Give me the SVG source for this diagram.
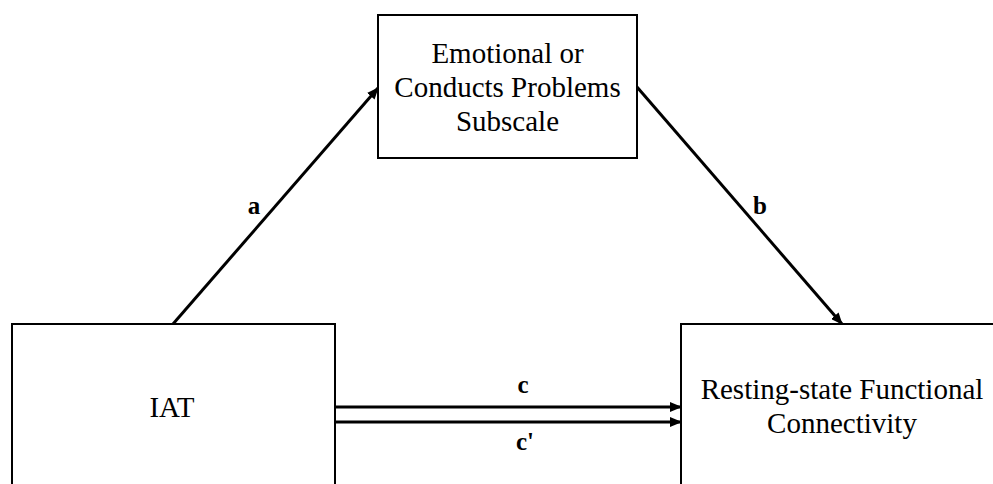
<svg xmlns="http://www.w3.org/2000/svg" width="993" height="484" viewBox="0 0 993 484">
<style>
.box{fill:#fff;stroke:#000;stroke-width:2}
.t{font-family:"Liberation Serif","Times New Roman",serif;font-size:29px;fill:#000;text-anchor:middle}
.lbl{font-family:"Liberation Serif","Times New Roman",serif;font-size:25px;font-weight:bold;fill:#000;text-anchor:middle}
.edge{stroke:#000;stroke-width:3;fill:none;marker-end:url(#ah)}
</style>
<defs>
<marker id="ah" markerWidth="12" markerHeight="10" refX="11" refY="5" orient="auto" markerUnits="userSpaceOnUse">
<path d="M0,0 L12,5 L0,10 Z" fill="#000"/>
</marker>
</defs>
<rect width="993" height="484" fill="#fff"/>
<g id="connectors">
<line class="edge" x1="173" y1="324" x2="378" y2="88"/>
<line class="edge" x1="637" y1="87" x2="842" y2="324"/>
<line class="edge" x1="335" y1="407" x2="681" y2="407"/>
<line class="edge" x1="335" y1="422" x2="681" y2="422"/>
<text class="lbl" x="254" y="214">a</text>
<text class="lbl" x="760" y="214">b</text>
<text class="lbl" x="523" y="393">c</text>
<text class="lbl" x="525" y="450">c'</text>
</g>
<g id="mediator">
<rect class="box" x="378" y="15" width="259" height="143"/>
<text class="t" x="507.5" y="63">Emotional or</text>
<text class="t" x="507.5" y="97">Conducts Problems</text>
<text class="t" x="507.5" y="131">Subscale</text>
</g>
<g id="iat">
<rect class="box" x="12" y="324" width="323" height="180"/>
<text class="t" x="172" y="417">IAT</text>
</g>
<g id="rsfc">
<rect class="box" x="681" y="324" width="330" height="180"/>
<text class="t" x="842" y="399">Resting-state Functional</text>
<text class="t" x="842" y="433">Connectivity</text>
</g>
</svg>
